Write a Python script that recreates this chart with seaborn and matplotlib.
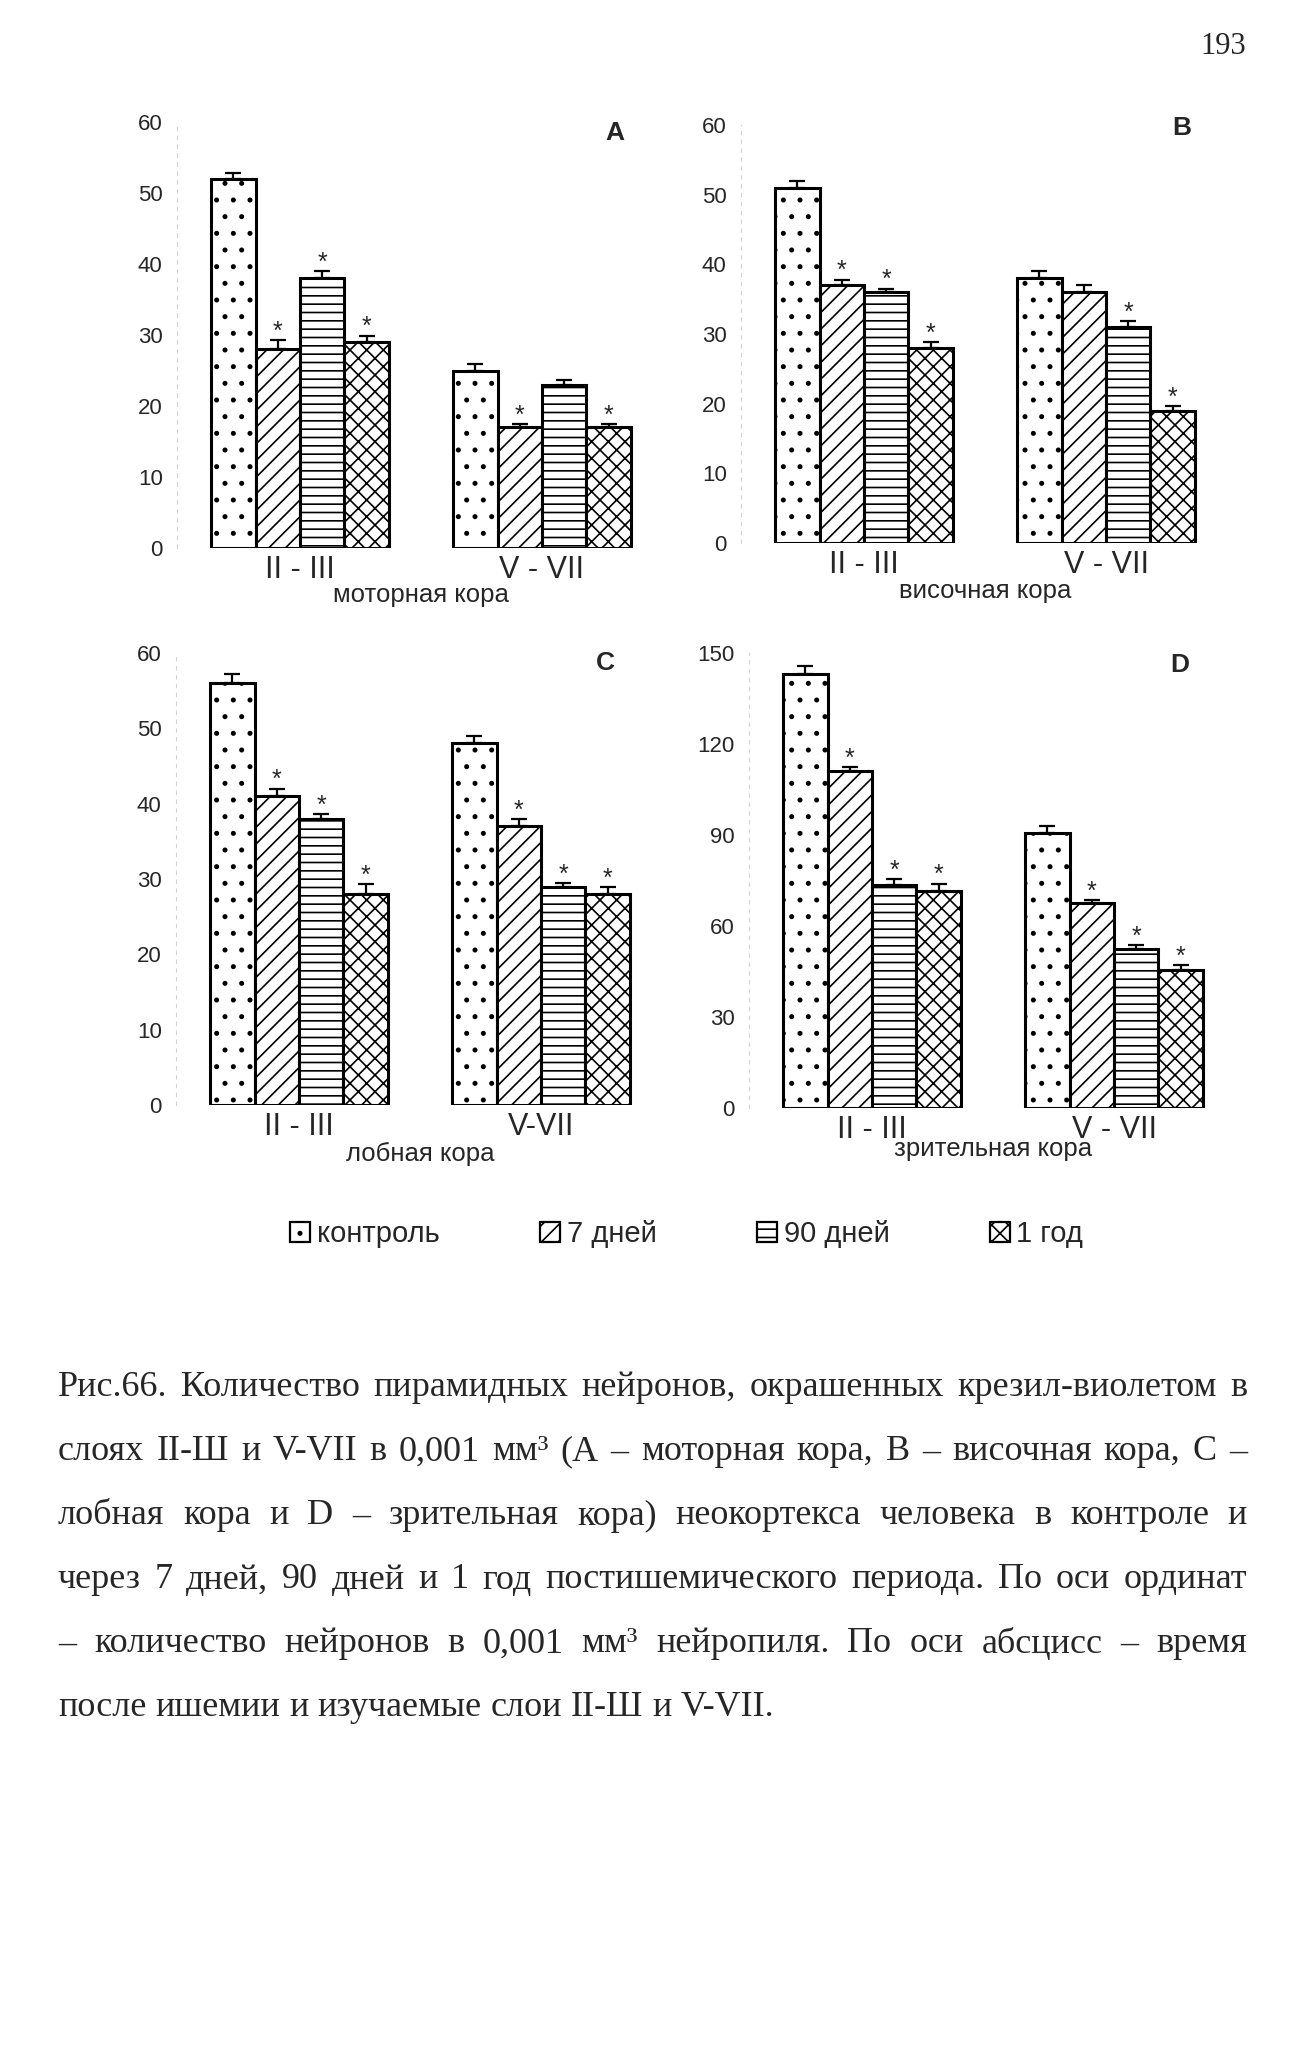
import matplotlib
matplotlib.use("Agg")
import matplotlib.pyplot as plt
from matplotlib.patches import Patch
from matplotlib.container import BarContainer
from matplotlib import font_manager
import pandas as pd
import seaborn as sns

# Data (neurons per 0.001 mm^3)

periods = ["контроль", "7 дней", "90 дней", "1 год"]
hatches = [".", "//", "--", "xx"]

cortex_names = ["моторная кора", "височная кора", "лобная кора", "зрительная кора"]
panel_letters = ["A", "B", "C", "D"]

layers_A = ["II - III", "V - VII"]
layers_B = ["II - III", "V - VII"]
layers_C = ["II - III", "V-VII"]
layers_D = ["II - III", "V - VII"]

values_A = [[52, 28, 38, 29], [25, 17, 23, 17]]
err_A = [[0.8, 1.3, 1.0, 0.9], [0.9, 0.4, 0.7, 0.4]]
stars_A = [[0, 1, 1, 1], [0, 1, 0, 1]]

values_B = [[51, 37, 36, 28], [38, 36, 31, 19]]
err_B = [[1.0, 0.8, 0.5, 0.8], [1.1, 1.0, 0.8, 0.7]]
stars_B = [[0, 1, 1, 1], [0, 0, 1, 1]]

values_C = [[56, 41, 38, 28], [48, 37, 29, 28]]
err_C = [[1.2, 1.0, 0.6, 1.3], [1.0, 0.9, 0.5, 0.9]]
stars_C = [[0, 1, 1, 1], [0, 1, 1, 1]]

values_D = [[143, 111, 73.5, 71.5], [90.5, 67.5, 52.5, 45.5]]
err_D = [[2.7, 1.4, 1.9, 2.5], [2.5, 1.1, 1.2, 1.7]]
stars_D = [[0, 1, 1, 1], [0, 1, 1, 1]]

yticks_60 = [0, 10, 20, 30, 40, 50, 60]
yticks_150 = [0, 30, 60, 90, 120, 150]

caption_lines = [
    "Рис.66. Количество пирамидных нейронов, окрашенных крезил-виолетом в",
    "слоях II-Ш и V-VII в 0,001 мм³  (А – моторная кора, В – височная кора, С –",
    "лобная кора и D – зрительная кора)  неокортекса человека в контроле  и",
    "через 7 дней, 90 дней и 1 год  постишемического периода. По оси ординат",
    "– количество нейронов в 0,001 мм³  нейропиля. По оси абсцисс – время",
    "после ишемии и изучаемые слои II-Ш и V-VII.",
]
page_number = "193"

# ---------------------------------------------------------------------------

W, H = 1306, 2050
sns.set_theme(style="white")
plt.rcParams["font.family"] = ["Liberation Sans", "DejaVu Sans"]
plt.rcParams["hatch.linewidth"] = 1.2

fig = plt.figure(figsize=(W / 100, H / 100), dpi=100)

BAR_WIDTH = 0.735
PX_PER_UNIT = 242
X_LO, X_HI = -0.51, 1.45

# panel placement in pixels: centre of first group, y of zero, y of top tick,
# letter position (axes fraction), xlabel offset below zero (px)
layout = [
    dict(cx=300, zero=548, top=122, letter=(0.925, 0.974), lab=47),
    dict(cx=864, zero=543, top=125, letter=(0.930, 0.993), lab=48),
    dict(cx=299, zero=1105, top=653, letter=(0.906, 0.978), lab=49),
    dict(cx=872, zero=1108, top=653, letter=(0.910, 0.974), lab=41),
]

panels = [
    (values_A, err_A, stars_A, layers_A, yticks_60),
    (values_B, err_B, stars_B, layers_B, yticks_60),
    (values_C, err_C, stars_C, layers_C, yticks_60),
    (values_D, err_D, stars_D, layers_D, yticks_150),
]


def draw_panel(ax, values, errors, stars, layers, yticks, name, letter, pos):
    rows = [(layers[i], periods[j], values[i][j]) for i in range(len(layers)) for j in range(len(periods))]
    df = pd.DataFrame(rows, columns=["layer", "period", "value"])
    sns.barplot(data=df, x="layer", y="value", hue="period", order=layers, hue_order=periods,
                palette=["white"] * len(periods), saturation=1, edgecolor="black", linewidth=2.2,
                width=BAR_WIDTH, errorbar=None, legend=False, ax=ax)

    bw = BAR_WIDTH / len(periods)
    bar_containers = [c for c in ax.containers if isinstance(c, BarContainer)]
    for cont in bar_containers:
        for bar in cont:
            x = bar.get_x() + bar.get_width() / 2
            i = int(round(x))
            j = int(round((x - i + BAR_WIDTH / 2 - bw / 2) / bw))
            bar.set_hatch(hatches[j])
            top = bar.get_height()
            e = errors[i][j]
            ax.errorbar(x, top, yerr=[[0], [e]], fmt="none", ecolor="black",
                        elinewidth=1.6, capsize=5.5, capthick=1.6, zorder=5)
            if stars[i][j]:
                ax.annotate("*", xy=(x, top + e), xytext=(0, 1), textcoords="offset points",
                            ha="center", va="baseline", fontsize=18)

    ax.set_xlim(X_LO, X_HI)
    ax.set_ylim(yticks[0], yticks[-1])
    ax.set_yticks(yticks)
    ax.set_xticks(range(len(layers)))
    ax.set_xticklabels(layers)
    ax.tick_params(axis="y", length=0, labelsize=16, pad=10)
    ax.tick_params(axis="x", length=0, labelsize=22, pad=5)
    ax.set_xlabel("")
    ax.set_ylabel("")
    for s in ["top", "right", "bottom"]:
        ax.spines[s].set_visible(False)
    ax.spines["left"].set_color("#d2d2d2")
    ax.spines["left"].set_linewidth(0.8)
    ax.spines["left"].set_linestyle((0, (3, 5)))

    ax.annotate(name, xy=(0.5, 0), xycoords=ax.get_xaxis_transform(),
                xytext=(0, -pos["lab"] * 0.72), textcoords="offset points",
                ha="center", va="center", fontsize=18.5)
    ax.text(pos["letter"][0], pos["letter"][1], letter, transform=ax.transAxes,
            ha="center", va="center", fontsize=19, fontweight="bold")


for k, (vals, errs, strs, lays, ticks) in enumerate(panels):
    p = layout[k]
    left = p["cx"] + X_LO * PX_PER_UNIT
    width = (X_HI - X_LO) * PX_PER_UNIT
    ax = fig.add_axes([left / W, 1 - p["zero"] / H, width / W, (p["zero"] - p["top"]) / H])
    ax.patch.set_alpha(0)
    draw_panel(ax, vals, errs, strs, lays, ticks, cortex_names[k], panel_letters[k], p)

# legend
installed = {f.name for f in font_manager.fontManager.ttflist}
if "Liberation Sans Narrow" in installed:
    leg_prop = dict(family="Liberation Sans Narrow", size=25)
else:
    leg_prop = dict(family="Liberation Sans", size=21)
em_px = leg_prop["size"] * 100 / 72
handles = [Patch(facecolor="white", edgecolor="black", hatch=h, linewidth=1.6) for h in hatches]
fig.legend(handles, periods, loc="center left", bbox_to_anchor=(290 / W, 1 - 1234 / H),
           ncol=4, frameon=False, prop=leg_prop, handlelength=20 / em_px, handleheight=20 / em_px,
           handletextpad=7 / em_px, columnspacing=100 / em_px, borderpad=0, borderaxespad=0)

# page number
fig.text(1223 / W, 1 - 47 / H, page_number, family="Liberation Serif", fontsize=22,
         ha="center", va="center")

# justified caption
renderer = fig.canvas.get_renderer()
cap_font = dict(family="Liberation Serif", fontsize=26)
cap_left, cap_right = 58, 1247
space_t = fig.text(0, 0, "и и", **cap_font)
space_w = space_t.get_window_extent(renderer).width
one_t = fig.text(0, 0, "и", **cap_font)
space_w -= 2 * one_t.get_window_extent(renderer).width
space_t.remove()
one_t.remove()

for n, line in enumerate(caption_lines):
    y = 1388 + n * 64
    words = line.split()
    widths = []
    for w in words:
        t = fig.text(0, 0, w, **cap_font)
        widths.append(t.get_window_extent(renderer).width)
        t.remove()
    if n < len(caption_lines) - 1:
        gap = (cap_right - cap_left - sum(widths)) / (len(words) - 1)
    else:
        gap = space_w
    x = cap_left
    for w, wd in zip(words, widths):
        fig.text(x / W, 1 - y / H, w, ha="left", va="center", **cap_font)
        x += wd + gap

fig.savefig("out.png", dpi=100)
